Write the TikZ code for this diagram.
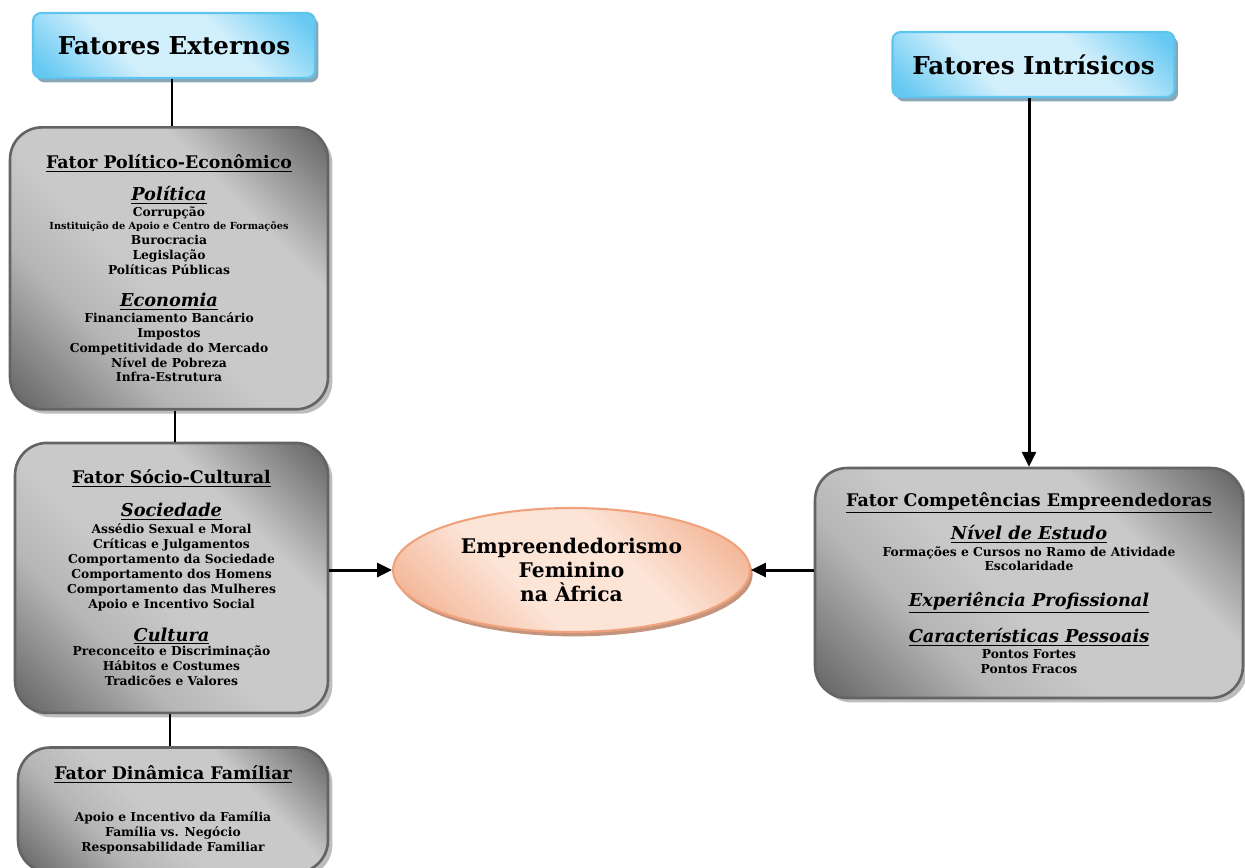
\documentclass[tikz,border=0pt]{standalone}
\usepackage{fontspec}
\setmainfont{DejaVu Serif}
\usetikzlibrary{positioning, shadows, shapes.geometric, arrows.meta}

\definecolor{greyedge}{HTML}{646464}
\definecolor{greydark}{HTML}{686868}
\definecolor{greylight}{HTML}{C9C9C9}
\definecolor{greyshadow}{HTML}{BDBDBD}
\definecolor{skyedge}{HTML}{5FC4EE}
\definecolor{skydark}{HTML}{66C9F2}
\definecolor{skylight}{HTML}{D2EFFC}
\definecolor{skyshadow}{HTML}{88A6B5}
\definecolor{peachedge}{HTML}{F0A27C}
\definecolor{peachdark}{HTML}{F2AE8C}
\definecolor{peachlight}{HTML}{FCE4D7}
\definecolor{peachshadow}{HTML}{C4957C}

\pgfdeclarehorizontalshading{greymetal}{100bp}{color(0bp)=(greydark); color(16bp)=(greydark); color(34bp)=(greylight!80!greydark); color(46bp)=(greylight); color(66bp)=(greylight); color(84bp)=(greydark); color(100bp)=(greydark)}
\pgfdeclarehorizontalshading{skymetal}{100bp}{color(0bp)=(skydark); color(18bp)=(skydark); color(38bp)=(skylight); color(62bp)=(skylight); color(82bp)=(skydark); color(100bp)=(skydark)}
\pgfdeclarehorizontalshading{peachmetal}{100bp}{color(0bp)=(peachdark); color(18bp)=(peachdark); color(40bp)=(peachlight); color(60bp)=(peachlight); color(82bp)=(peachdark); color(100bp)=(peachdark)}

\newcommand\headfont{\fontsize{14pt}{16pt}\selectfont\bfseries}
\newcommand\itemfont{\fontsize{7pt}{8.5pt}\selectfont\bfseries\lineskiplimit=-20pt\relax}
\newcommand\goalfont{\fontsize{11.5pt}{13.9pt}\selectfont\bfseries\lineskiplimit=-20pt\relax}
\newcommand\factortitle[1]{{\fontsize{9.9pt}{8.5pt}\selectfont\underline{#1}}}
\newcommand\subhead[1]{{\fontsize{10.1pt}{8.5pt}\selectfont\itshape\underline{#1}}}
\newcommand\tinyitem[1]{{\fontsize{5.55pt}{8.5pt}\selectfont #1}}

\begin{document}
\begin{tikzpicture}[
    x=0.02cm, y=-0.02cm,
    headbox/.style={draw=skyedge, line width=1.2pt, rounded corners=0.16cm,
        shading=skymetal, shading angle=45,
        drop shadow={shadow xshift=2pt, shadow yshift=-2.5pt, fill=skyshadow, opacity=1},
        minimum width=5.64cm, minimum height=1.3cm, font=\headfont},
    factorbox/.style={draw=greyedge, line width=1.5pt, rounded corners=0.64cm,
        shading=greymetal, shading angle=45,
        drop shadow={shadow xshift=2.5pt, shadow yshift=-2.5pt, fill=greyshadow, opacity=1},
        align=center, font=\itemfont},
    goal/.style={ellipse, draw=peachedge, line width=1.2pt, inner sep=2pt,
        shading=peachmetal, shading angle=45,
        drop shadow={shadow xshift=1.5pt, shadow yshift=-2.5pt, fill=peachshadow, opacity=1},
        minimum width=7.14cm, minimum height=2.48cm, align=center, font=\goalfont},
    link/.style={line width=1.7pt, black},
    feed/.style={link, -{Triangle[length=8.5pt, width=8pt]}}
]
    \useasboundingbox (0,0) rectangle (1245,867);

    % External factors
    \node[headbox] (ext) at (174,45.5) {Fatores Externos};

    \node[factorbox, minimum width=6.36cm, minimum height=5.64cm,
          below=0.94cm of ext, xshift=-0.1cm] (pol) {%
        \factortitle{Fator Político-Econômico}\\[9.7pt]
        \subhead{Política}\\[0.6pt]
        Corrupção\\[-1.1pt]
        \tinyitem{Instituição de Apoio e Centro de Formações}\\
        Burocracia\\
        Legislação\\
        Políticas Públicas\\[9.7pt]
        \subhead{Economia}\\[0.6pt]
        Financiamento Bancário\\
        Impostos\\
        Competitividade do Mercado\\
        Nível de Pobreza\\
        Infra-Estrutura};

    \node[factorbox, minimum width=6.26cm, minimum height=5.4cm,
          below=0.62cm of pol, xshift=0.05cm] (soc) {%
        \factortitle{Fator Sócio-Cultural}\\[10.2pt]
        \subhead{Sociedade}\\[1.1pt]
        Assédio Sexual e Moral\\
        Críticas e Julgamentos\\
        Comportamento da Sociedade\\
        Comportamento dos Homens\\
        Comportamento das Mulheres\\
        Apoio e Incentivo Social\\[10.2pt]
        \subhead{Cultura}\\
        Preconceito e Discriminação\\
        Hábitos e Costumes\\
        Tradicões e Valores};

    \node[factorbox, minimum width=6.2cm, minimum height=2.5cm,
          below=0.64cm of soc, xshift=0.03cm] (fam) {%
        \factortitle{Fator Dinâmica Famíliar}\\[15.4pt]
        Apoio e Incentivo da Família\\
        Família vs. Negócio\\
        Responsabilidade Familiar};

    % Intrinsic factors
    \node[headbox] (intr) at (1033.5,64.5) {Fatores Intrísicos};

    \node[factorbox, minimum width=8.56cm, minimum height=4.6cm] (comp) at (1029,583) {%
        \factortitle{Fator Competências Empreendedoras}\\[10.2pt]
        \subhead{Nível de Estudo}\\[1.1pt]
        Formações e Cursos no Ramo de Atividade\\[-0.6pt]
        Escolaridade\\[12pt]
        \subhead{Experiência Profissional}\\[12pt]
        \subhead{Características Pessoais}\\[0.6pt]
        Pontos Fortes\\
        Pontos Fracos};

    % Centre
    \node[goal] (fem) at (571.5,570) {Empreendedorismo\\Feminino\\na Àfrica};

    % Connectors
    \draw[link] ([xshift=-0.04cm]ext.south) -- ([xshift=-0.04cm]ext.south |- pol.north);
    \draw[link] ([xshift=0.12cm]pol.south) -- ([xshift=0.12cm]pol.south |- soc.north);
    \draw[link] ([xshift=-0.03cm]soc.south) -- ([xshift=-0.03cm]soc.south |- fam.north);
    \draw[feed] (soc.east |- fem.west) -- (fem.west);
    \draw[feed] (comp.north |- intr.south) -- (comp.north);
    \draw[feed] (comp.west |- fem.east) -- (fem.east);
\end{tikzpicture}
\end{document}
